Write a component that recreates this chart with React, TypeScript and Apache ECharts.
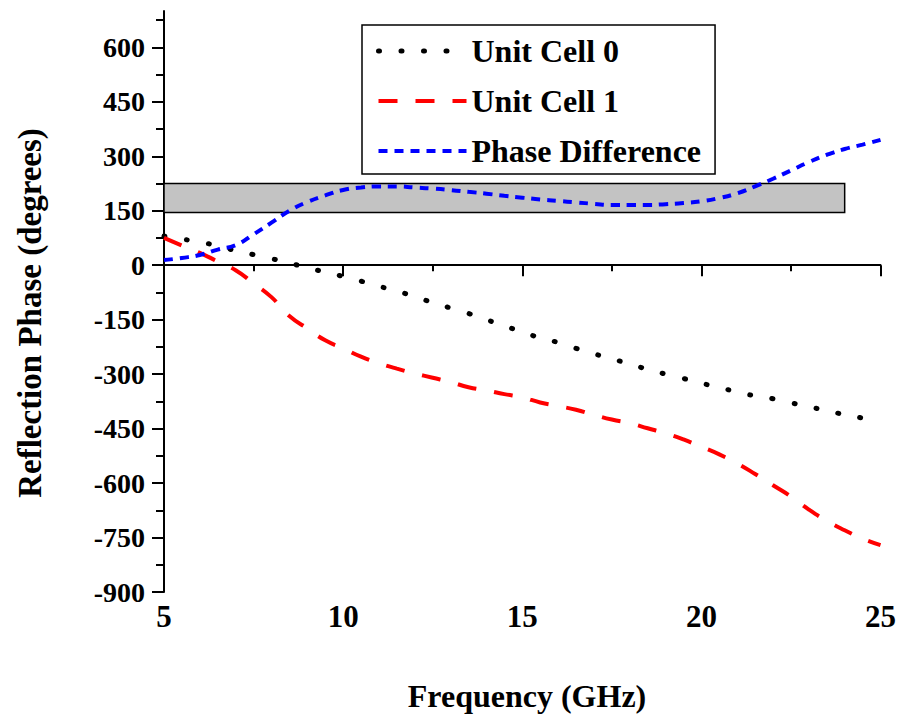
import React, { useEffect, useRef } from "react";
import * as echarts from "echarts";

const freq = [5, 5.5, 6, 6.5, 7, 7.5, 8, 8.5, 9, 9.5, 10, 10.5, 11, 11.5, 12, 12.5, 13, 13.5, 14, 14.5, 15, 15.5, 16, 16.5, 17, 17.5, 18, 18.5, 19, 19.5, 20, 20.5, 21, 21.5, 22, 22.5, 23, 23.5, 24, 24.5, 25];
const unitCell0 = [80, 72, 64, 53, 40, 29, 18, 6, -7, -19, -31, -44, -58, -71, -87, -103, -118, -133, -150, -167, -184, -200, -213, -229, -244, -258, -272, -287, -300, -312, -325, -337, -349, -360, -368, -379, -390, -400, -412, -421, -432];
const unitCell1 = [75, 54, 34, 10, -14, -50, -88, -140, -174, -207, -229, -252, -270, -285, -298, -310, -322, -336, -345, -355, -364, -378, -388, -398, -412, -425, -435, -449, -463, -480, -500, -521, -546, -575, -606, -637, -673, -704, -730, -753, -771];
const phaseDiff = [14, 20, 28, 43, 55, 85, 117, 150, 174, 192, 207, 214, 217, 217, 214, 211, 207, 202, 197, 191, 186, 181, 177, 173, 169, 166, 166, 166, 168, 171, 176, 185, 198, 217, 238, 261, 284, 304, 320, 332, 345];
const seriesNames = ["Unit Cell 0", "Unit Cell 1", "Phase Difference"];
const yMajorTicks = [-900, -750, -600, -450, -300, -150, 0, 150, 300, 450, 600];
const yMinorTicks = [-825, -675, -525, -375, -225, -75, 75, 225, 375, 525, 675];
const bandX = [5, 24];
const bandY = [145, 225];

const FONT = '"Liberation Serif", "Times New Roman", serif';

export default function App() {
  const ref = useRef<HTMLDivElement>(null);
  useEffect(() => {
    if (!ref.current) return;
    const chart = echarts.init(ref.current, undefined, { renderer: "svg" });
    const pairs = (arr: number[]) => freq.map((f, i) => [f, arr[i]]);
    chart.setOption({
      animation: false,
      backgroundColor: "#ffffff",
      grid: { left: 164, right: 9, top: 11, bottom: 126 },
      xAxis: {
        type: "value",
        min: 5,
        max: 25,
        interval: 5,
        axisLine: { show: true, lineStyle: { color: "#000", width: 2 } },
        axisTick: { show: true, length: 11, lineStyle: { color: "#000", width: 2 } },
        minorTick: { show: true, splitNumber: 2, length: 6, lineStyle: { color: "#000", width: 2 } },
        splitLine: { show: false },
        axisLabel: { color: "#000", fontFamily: FONT, fontWeight: "bold", fontSize: 31, margin: 9 },
      },
      yAxis: [
        {
          type: "value",
          min: -900,
          max: 700,
          interval: 150,
          axisLine: { show: true, lineStyle: { color: "#000", width: 2 } },
          axisTick: { show: true, length: 12, customValues: yMajorTicks, lineStyle: { color: "#000", width: 2 } },
          splitLine: { show: false },
          axisLabel: {
            customValues: yMajorTicks,
            color: "#000",
            fontFamily: FONT,
            fontWeight: "bold",
            fontSize: 28,
            margin: 19,
          },
        },
        {
          type: "value",
          position: "left",
          min: -900,
          max: 700,
          interval: 150,
          axisLine: { show: false },
          axisTick: { show: true, length: 8, customValues: yMinorTicks, lineStyle: { color: "#000", width: 2 } },
          splitLine: { show: false },
          axisLabel: { show: false },
        },
      ],
      legend: {
        left: 362,
        top: 25,
        orient: "vertical",
        data: seriesNames,
        itemWidth: 88,
        itemHeight: 14,
        itemGap: 10,
        padding: [6, 14, 3, 14],
        borderColor: "#000",
        borderWidth: 1.5,
        backgroundColor: "#fff",
        itemStyle: { opacity: 0 },
        lineStyle: { width: "inherit", type: "inherit", cap: "inherit" },
        textStyle: { color: "#000", fontFamily: FONT, fontWeight: "bold", fontSize: 32, lineHeight: 40 },
      },
      graphic: [
        {
          type: "text",
          x: 30,
          y: 313,
          rotation: Math.PI / 2,
          style: {
            text: "Reflection Phase (degrees)",
            font: `bold 33px ${FONT}`,
            fill: "#000",
            align: "center",
            verticalAlign: "middle",
          },
        },
        {
          type: "text",
          x: 527,
          y: 696,
          style: {
            text: "Frequency (GHz)",
            font: `bold 32px ${FONT}`,
            fill: "#000",
            align: "center",
            verticalAlign: "middle",
          },
        },
      ],
      series: [
        {
          name: seriesNames[0],
          type: "line",
          smooth: true,
          symbol: "none",
          data: pairs(unitCell0),
          lineStyle: { color: "#000", width: 5, type: [1, 21.5], cap: "round" },
          itemStyle: { color: "#000" },
          z: 3,
          markArea: {
            silent: true,
            z: 1,
            itemStyle: { color: "#c3c3c3", borderColor: "#000", borderWidth: 1.5 },
            data: [[{ coord: [bandX[0], bandY[0]] }, { coord: [bandX[1], bandY[1]] }]],
          },
        },
        {
          name: seriesNames[1],
          type: "line",
          smooth: true,
          symbol: "none",
          data: pairs(unitCell1),
          lineStyle: { color: "#ff0000", width: 4, type: [19, 18] },
          itemStyle: { color: "#ff0000" },
          z: 3,
        },
        {
          name: seriesNames[2],
          type: "line",
          smooth: true,
          symbol: "none",
          data: pairs(phaseDiff),
          lineStyle: { color: "#0000ff", width: 4, type: [9, 7] },
          itemStyle: { color: "#0000ff" },
          z: 3,
        },
      ],
    });
    return () => chart.dispose();
  }, []);
  return <div ref={ref} style={{ position: "fixed", left: 0, top: 0, width: 899, height: 718 }} />;
}
